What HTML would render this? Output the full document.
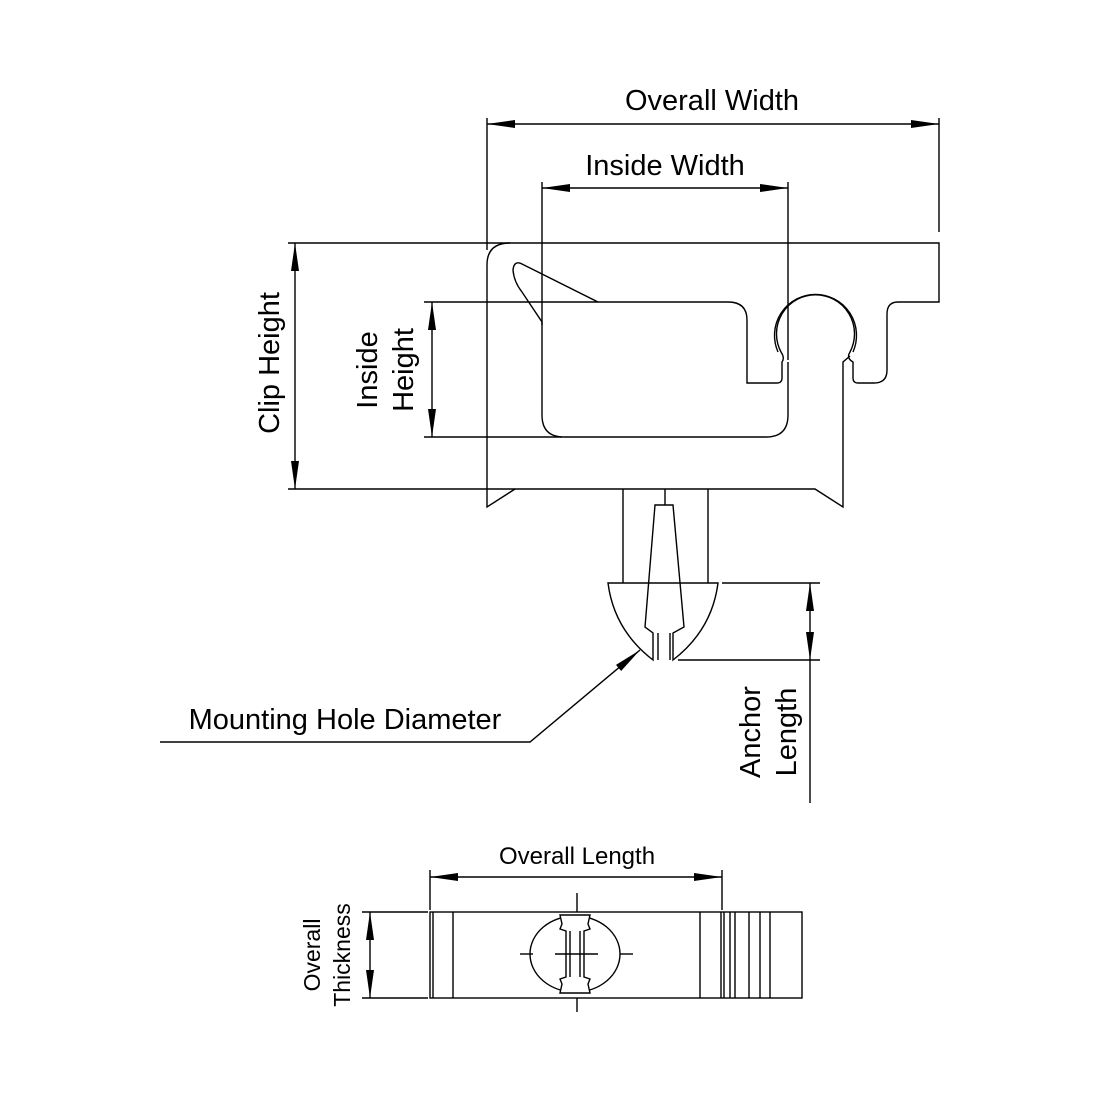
<!DOCTYPE html>
<html><head><style>body{margin:0;background:#fff}svg{display:block}</style></head><body>
<svg width="1100" height="1100" viewBox="0 0 1100 1100" xmlns="http://www.w3.org/2000/svg">
<defs>
<marker id="a" viewBox="0 0 28 8" refX="28" refY="4" markerWidth="28" markerHeight="8" markerUnits="userSpaceOnUse" orient="auto-start-reverse"><path d="M0,0 L28,4 L0,8 Z" fill="#000"/></marker>
</defs>
<g fill="none" stroke="#000" stroke-width="1.4">
<line x1="487" y1="118" x2="487" y2="250"/><line x1="939" y1="118" x2="939" y2="232"/>
<line x1="487" y1="124" x2="939" y2="124" marker-start="url(#a)" marker-end="url(#a)"/>
<line x1="542" y1="182" x2="542" y2="325"/><line x1="788" y1="182" x2="788" y2="360"/>
<line x1="542" y1="188" x2="788" y2="188" marker-start="url(#a)" marker-end="url(#a)"/>
<line x1="288" y1="243" x2="510" y2="243"/><line x1="288" y1="489" x2="515" y2="489"/>
<line x1="295" y1="243" x2="295" y2="489" marker-start="url(#a)" marker-end="url(#a)"/>
<line x1="424" y1="302" x2="598" y2="302"/><line x1="424" y1="437" x2="562" y2="437"/>
<line x1="432" y1="302" x2="432" y2="437" marker-start="url(#a)" marker-end="url(#a)"/>
<path d="M510,243 L939,243 L939,302 L898,302 Q887,302 887,314 L887,370 Q887,383 874,383 L858,383 Q853,383 853,378 L853,362 Q846,358 850,352 A39,39 0 1 0 781,352 Q785,358 782,362 L782,378 Q782,383 777,383 L747,383 L747,320 Q747,302 728,302 L598,302 L522,264 Q514,260 513,270 Q514,282 522,292 L542,322 L542,415 Q542,437 564,437 L766,437 Q788,437 788,415 L788,362"/>
<path d="M850,356 L843,362 L843,507 L815,489 L515,489 L487,507 L487,265 Q487,243 510,243"/>
<path d="M853,352 A41,41 0 1 0 778,352"/>
<line x1="623" y1="489" x2="623" y2="583"/><line x1="708" y1="489" x2="708" y2="583"/>
<line x1="665" y1="489" x2="665" y2="505"/>
<path d="M608,583 L718,583 Q712,630 673,660 L673,633 L684,627 L673,505 L655,505 L645,627 L653,633 L653,660 Q614,630 608,583 Z"/>
<line x1="658" y1="633" x2="658" y2="660"/><line x1="670" y1="633" x2="670" y2="660"/>
<line x1="722" y1="583" x2="820" y2="583"/><line x1="678" y1="660" x2="820" y2="660"/>
<line x1="810" y1="583" x2="810" y2="660" marker-start="url(#a)" marker-end="url(#a)"/>
<line x1="810" y1="660" x2="810" y2="803"/>
<polyline points="160,742 530,742 640,650" marker-end="url(#a)"/>
<line x1="430" y1="870" x2="430" y2="910"/><line x1="722" y1="870" x2="722" y2="910"/>
<line x1="430" y1="877" x2="722" y2="877" marker-start="url(#a)" marker-end="url(#a)"/>
<line x1="362" y1="912" x2="428" y2="912"/><line x1="362" y1="998" x2="428" y2="998"/>
<line x1="370" y1="912" x2="370" y2="998" marker-start="url(#a)" marker-end="url(#a)"/>
<rect x="430" y="912" width="372" height="86"/>
<line x1="433" y1="912" x2="433" y2="998"/><line x1="453" y1="912" x2="453" y2="998"/>
<line x1="700" y1="912" x2="700" y2="998"/><line x1="721" y1="912" x2="721" y2="998"/>
<line x1="724" y1="912" x2="724" y2="998"/><line x1="730" y1="912" x2="730" y2="998"/>
<line x1="735" y1="912" x2="735" y2="998"/><line x1="749" y1="912" x2="749" y2="998"/>
<line x1="760" y1="912" x2="760" y2="998"/><line x1="770" y1="912" x2="770" y2="998"/>
<ellipse cx="575" cy="954" rx="45" ry="38"/>
<path fill="#fff" d="M560,915 L562,924 L560,929 L566,931 L566,977 L560,979 L562,984 L560,993 L590,993 L588,984 L590,979 L584,977 L584,931 L590,929 L588,924 L590,915 Z"/>
<line x1="570" y1="931" x2="570" y2="977"/><line x1="580" y1="931" x2="580" y2="977"/>
<line x1="520" y1="954" x2="533" y2="954"/><line x1="555" y1="954" x2="598" y2="954"/><line x1="620" y1="954" x2="633" y2="954"/>
<line x1="577" y1="893" x2="577" y2="912"/><line x1="577" y1="998" x2="577" y2="1012"/>
</g>
<g font-family="Liberation Sans, sans-serif" fill="#000" text-anchor="middle">
<text x="712" y="110" font-size="29">Overall Width</text>
<text x="665" y="175" font-size="29">Inside Width</text>
<text transform="translate(279,363) rotate(-90)" font-size="29">Clip Height</text>
<text transform="translate(377,370) rotate(-90)" font-size="29">Inside</text>
<text transform="translate(413,370) rotate(-90)" font-size="29">Height</text>
<text transform="translate(760,732) rotate(-90)" font-size="29">Anchor</text>
<text transform="translate(796,732) rotate(-90)" font-size="29">Length</text>
<text x="345" y="729" font-size="29">Mounting Hole Diameter</text>
<text x="577" y="864" font-size="24">Overall Length</text>
<text transform="translate(320,955) rotate(-90)" font-size="23">Overall</text>
<text transform="translate(350,955) rotate(-90)" font-size="23">Thickness</text>
</g>
</svg>
</body></html>
